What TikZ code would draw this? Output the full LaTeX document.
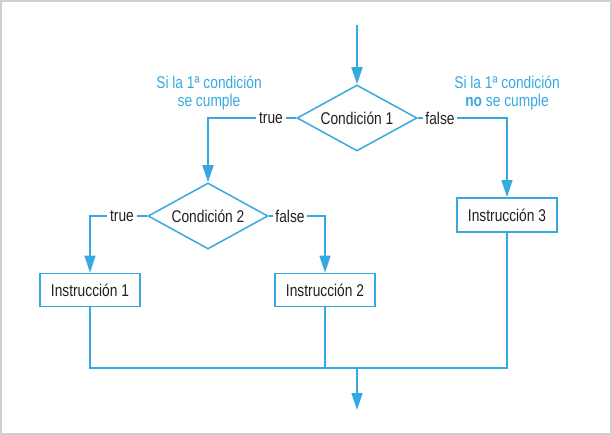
\documentclass[tikz,border=0pt]{standalone}
\usepackage{fontspec}
\setmainfont{Liberation Sans}[FakeStretch=0.81]
\usetikzlibrary{arrows.meta,positioning,shapes.geometric}
\definecolor{FlowBlue}{HTML}{36A9E1}
\definecolor{FrameGrey}{HTML}{CFCFCF}
\definecolor{InkDark}{HTML}{231F20}

\begin{document}
\begin{tikzpicture}[x=1pt, y=-1pt,
  flow/.style={draw=FlowBlue, line width=1.5pt},
  arr/.style={flow, -{Triangle[length=17pt, width=11pt]}},
  cond/.style={diamond, draw=FlowBlue, line width=1.5pt, inner sep=0pt, aspect=1.8,
    minimum width=120pt, minimum height=66pt, font=\fontsize{17}{18}\selectfont, text=InkDark},
  instr/.style={rectangle, draw=FlowBlue, line width=1.8pt, minimum width=100pt, minimum height=33pt,
    font=\fontsize{17}{18}\selectfont, text=InkDark},
  lab/.style={inner sep=2.5pt, font=\fontsize{17}{18}\selectfont, text=InkDark},
  note/.style={align=center, font=\fontsize{17}{18}\selectfont, text=FlowBlue},
]
\useasboundingbox (0,0) rectangle (612,435);
\draw[FrameGrey, line width=1.5pt] (1,1) rectangle (611,434);
% ---------------- first decision
\coordinate (In) at (357,25);
\node[cond] (C1) at (357,118) {Condición 1};
\draw[arr] (In) -- (C1.north);
\node[lab] (T1) at (271,118) {true};
\node[lab] (F1) at (440,118) {false};
\node[note] (N1) at (209,93) {Si la 1ª condición\\ se cumple};
\node[note] (N2) at (507,93) {Si la 1ª condición\\ \textbf{no} se cumple};
% ---------------- second decision
\node[cond] (C2) at (208,216) {Condición 2};
\node[lab] (T2) at (122,216) {true};
\node[lab] (F2) at (290,216) {false};
% ---------------- instructions
\node[instr] (I1) at (90,290) {Instrucción 1};
\node[instr] (I2) at (325,290) {Instrucción 2};
\node[instr, minimum height=34pt] (I3) at (507,215) {Instrucción 3};
% ---------------- connectors
\draw[flow] (C1.west) -- (T1.east);
\draw[arr] (T1.west) -| (C2.north);
\draw[flow] (C1.east) -- (F1.west);
\draw[arr] (F1.east) -| (I3.north);
\draw[flow] (C2.west) -- (T2.east);
\draw[arr] (T2.west) -| (I1.north);
\draw[flow] (C2.east) -- (F2.west);
\draw[arr] (F2.east) -| (I2.north);
% ---------------- merge
\coordinate (J) at (357,368);
\coordinate (Out) at (357,410);
\draw[flow] (I1.south) |- (J -| I3.south) -- (I3.south);
\draw[flow] (I2.south) -- (I2.south |- J);
\draw[arr] (J) -- (Out);
\end{tikzpicture}
\end{document}
